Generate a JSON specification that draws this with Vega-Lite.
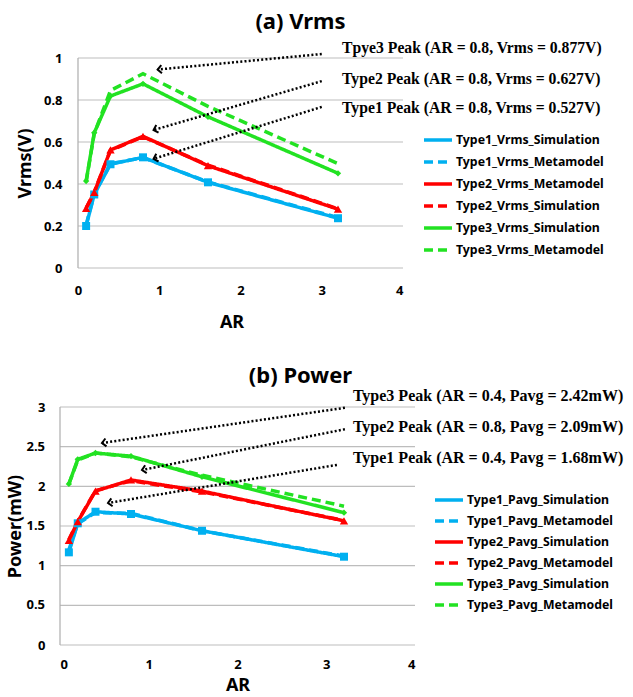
{
  "$schema": "https://vega.github.io/schema/vega-lite/v6.json",
  "background": "white",
  "padding": {"left": 6, "top": 10, "right": 0, "bottom": 0},
  "config": {
    "view": {"stroke": null},
    "font": "Noto Sans",
    "axis": {
      "labelFont": "Noto Sans", "labelFontWeight": "bold", "labelFontSize": 13, "labelColor": "#000",
      "titleFont": "Noto Sans", "titleFontWeight": "bold", "titleFontSize": 18, "titleColor": "#000",
      "ticks": false, "domainColor": "#ADADAD", "gridColor": "#BDBDBD", "gridWidth": 1.2, "domainWidth": 1.2, "labelOverlap": false
    },
    "legend": {
      "padding": 0, "symbolSize": 400, "symbolOpacity": 1,
      "labelFont": "Noto Sans", "labelFontWeight": "bold", "labelFontSize": 12.3, "labelColor": "#000",
      "labelOffset": 6, "labelLimit": 300
    }
  },
  "datasets": {
    "vrms": [
      {"series": "Type1_Vrms_Simulation", "AR": 0.1, "value": 0.2},
      {"series": "Type1_Vrms_Simulation", "AR": 0.2, "value": 0.35},
      {"series": "Type1_Vrms_Simulation", "AR": 0.4, "value": 0.494},
      {"series": "Type1_Vrms_Simulation", "AR": 0.8, "value": 0.527},
      {"series": "Type1_Vrms_Simulation", "AR": 1.6, "value": 0.408},
      {"series": "Type1_Vrms_Simulation", "AR": 3.2, "value": 0.237},
      {"series": "Type1_Vrms_Metamodel", "AR": 0.1, "value": 0.205},
      {"series": "Type1_Vrms_Metamodel", "AR": 0.2, "value": 0.352},
      {"series": "Type1_Vrms_Metamodel", "AR": 0.4, "value": 0.497},
      {"series": "Type1_Vrms_Metamodel", "AR": 0.8, "value": 0.525},
      {"series": "Type1_Vrms_Metamodel", "AR": 1.6, "value": 0.41},
      {"series": "Type1_Vrms_Metamodel", "AR": 3.2, "value": 0.24},
      {"series": "Type2_Vrms_Metamodel", "AR": 0.1, "value": 0.284},
      {"series": "Type2_Vrms_Metamodel", "AR": 0.2, "value": 0.36},
      {"series": "Type2_Vrms_Metamodel", "AR": 0.4, "value": 0.562},
      {"series": "Type2_Vrms_Metamodel", "AR": 0.8, "value": 0.627},
      {"series": "Type2_Vrms_Metamodel", "AR": 1.6, "value": 0.487},
      {"series": "Type2_Vrms_Metamodel", "AR": 3.2, "value": 0.28},
      {"series": "Type2_Vrms_Simulation", "AR": 0.1, "value": 0.285},
      {"series": "Type2_Vrms_Simulation", "AR": 0.2, "value": 0.362},
      {"series": "Type2_Vrms_Simulation", "AR": 0.4, "value": 0.56},
      {"series": "Type2_Vrms_Simulation", "AR": 0.8, "value": 0.625},
      {"series": "Type2_Vrms_Simulation", "AR": 1.6, "value": 0.49},
      {"series": "Type2_Vrms_Simulation", "AR": 3.2, "value": 0.282},
      {"series": "Type3_Vrms_Simulation", "AR": 0.1, "value": 0.414},
      {"series": "Type3_Vrms_Simulation", "AR": 0.2, "value": 0.644},
      {"series": "Type3_Vrms_Simulation", "AR": 0.4, "value": 0.819},
      {"series": "Type3_Vrms_Simulation", "AR": 0.8, "value": 0.877},
      {"series": "Type3_Vrms_Simulation", "AR": 1.6, "value": 0.72},
      {"series": "Type3_Vrms_Simulation", "AR": 3.2, "value": 0.451},
      {"series": "Type3_Vrms_Metamodel", "AR": 0.1, "value": 0.41},
      {"series": "Type3_Vrms_Metamodel", "AR": 0.2, "value": 0.64},
      {"series": "Type3_Vrms_Metamodel", "AR": 0.4, "value": 0.845},
      {"series": "Type3_Vrms_Metamodel", "AR": 0.8, "value": 0.925},
      {"series": "Type3_Vrms_Metamodel", "AR": 1.6, "value": 0.77},
      {"series": "Type3_Vrms_Metamodel", "AR": 3.2, "value": 0.497}
    ],
    "power": [
      {"series": "Type1_Pavg_Simulation", "AR": 0.1, "value": 1.168},
      {"series": "Type1_Pavg_Simulation", "AR": 0.2, "value": 1.534},
      {"series": "Type1_Pavg_Simulation", "AR": 0.4, "value": 1.68},
      {"series": "Type1_Pavg_Simulation", "AR": 0.8, "value": 1.651},
      {"series": "Type1_Pavg_Simulation", "AR": 1.6, "value": 1.44},
      {"series": "Type1_Pavg_Simulation", "AR": 3.2, "value": 1.113},
      {"series": "Type1_Pavg_Metamodel", "AR": 0.1, "value": 1.2},
      {"series": "Type1_Pavg_Metamodel", "AR": 0.2, "value": 1.53},
      {"series": "Type1_Pavg_Metamodel", "AR": 0.4, "value": 1.67},
      {"series": "Type1_Pavg_Metamodel", "AR": 0.8, "value": 1.66},
      {"series": "Type1_Pavg_Metamodel", "AR": 1.6, "value": 1.44},
      {"series": "Type1_Pavg_Metamodel", "AR": 3.2, "value": 1.12},
      {"series": "Type2_Pavg_Simulation", "AR": 0.1, "value": 1.32},
      {"series": "Type2_Pavg_Simulation", "AR": 0.2, "value": 1.555},
      {"series": "Type2_Pavg_Simulation", "AR": 0.4, "value": 1.94},
      {"series": "Type2_Pavg_Simulation", "AR": 0.8, "value": 2.08},
      {"series": "Type2_Pavg_Simulation", "AR": 1.6, "value": 1.94},
      {"series": "Type2_Pavg_Simulation", "AR": 3.2, "value": 1.565},
      {"series": "Type2_Pavg_Metamodel", "AR": 0.1, "value": 1.33},
      {"series": "Type2_Pavg_Metamodel", "AR": 0.2, "value": 1.56},
      {"series": "Type2_Pavg_Metamodel", "AR": 0.4, "value": 1.945},
      {"series": "Type2_Pavg_Metamodel", "AR": 0.8, "value": 2.07},
      {"series": "Type2_Pavg_Metamodel", "AR": 1.6, "value": 1.93},
      {"series": "Type2_Pavg_Metamodel", "AR": 3.2, "value": 1.57},
      {"series": "Type3_Pavg_Simulation", "AR": 0.1, "value": 2.03},
      {"series": "Type3_Pavg_Simulation", "AR": 0.2, "value": 2.34},
      {"series": "Type3_Pavg_Simulation", "AR": 0.4, "value": 2.42},
      {"series": "Type3_Pavg_Simulation", "AR": 0.8, "value": 2.38},
      {"series": "Type3_Pavg_Simulation", "AR": 1.6, "value": 2.12},
      {"series": "Type3_Pavg_Simulation", "AR": 3.2, "value": 1.668},
      {"series": "Type3_Pavg_Metamodel", "AR": 0.1, "value": 2.03},
      {"series": "Type3_Pavg_Metamodel", "AR": 0.2, "value": 2.33},
      {"series": "Type3_Pavg_Metamodel", "AR": 0.4, "value": 2.42},
      {"series": "Type3_Pavg_Metamodel", "AR": 0.8, "value": 2.37},
      {"series": "Type3_Pavg_Metamodel", "AR": 1.6, "value": 2.14},
      {"series": "Type3_Pavg_Metamodel", "AR": 3.2, "value": 1.75}
    ],
    "gridV": [{"g": 0}, {"g": 0.2}, {"g": 0.4}, {"g": 0.6}, {"g": 0.8}, {"g": 1}],
    "gridP": [{"g": 0}, {"g": 0.5}, {"g": 1}, {"g": 1.5}, {"g": 2}, {"g": 2.5}, {"g": 3}],
    "halfP": [{"g": 0.5}, {"g": 1.5}, {"g": 2.5}],
    "arrowsV": [
      {"peak": "Type3", "AR": 3.0, "value": 1.019, "AR2": 0.98, "value2": 0.945},
      {"peak": "Type2", "AR": 3.0, "value": 0.89, "AR2": 0.93, "value2": 0.657},
      {"peak": "Type1", "AR": 3.0, "value": 0.767, "AR2": 0.93, "value2": 0.52}
    ],
    "labelsV": [
      {"label": "Tpye3 Peak (AR = 0.8, Vrms = 0.877V)", "AR": 3.25, "value": 1.048},
      {"label": "Type2 Peak (AR = 0.8, Vrms = 0.627V)", "AR": 3.25, "value": 0.9},
      {"label": "Type1 Peak (AR = 0.8, Vrms = 0.527V)", "AR": 3.25, "value": 0.762}
    ],
    "arrowsP": [
      {"peak": "Type3", "AR": 3.21, "value": 2.99, "AR2": 0.473, "value2": 2.546},
      {"peak": "Type2", "AR": 3.21, "value": 2.72, "AR2": 0.924, "value2": 2.206},
      {"peak": "Type1", "AR": 3.12, "value": 2.27, "AR2": 0.541, "value2": 1.79}
    ],
    "labelsP": [
      {"label": "Type3 Peak (AR = 0.4, Pavg = 2.42mW)", "AR": 3.3, "value": 3.139},
      {"label": "Type2 Peak (AR = 0.8, Pavg = 2.09mW)", "AR": 3.3, "value": 2.748},
      {"label": "Type1 Peak (AR = 0.4, Pavg = 1.68mW)", "AR": 3.3, "value": 2.357}
    ]
  },
  "concat": [
    {
      "width": 343,
      "height": 210,
      "title": {"text": "(a) Vrms", "font": "Noto Sans", "fontSize": 22, "fontWeight": "bold", "color": "#000", "anchor": "middle", "frame": "group", "dx": 69, "offset": 6},
      "layer": [
        {
          "data": {"name": "gridV"},
          "mark": {"type": "rule", "color": "#BDBDBD", "strokeWidth": 1.2},
          "encoding": {
            "x": {"datum": 0, "type": "quantitative", "scale": {"domain": [-0.2215, 4], "nice": false, "zero": false},
              "axis": {"title": "AR", "values": [0, 1, 2, 3, 4], "format": "d", "grid": false, "domain": false, "labelPadding": 16, "titlePadding": 16}},
            "x2": {"datum": 4},
            "y": {"field": "g", "type": "quantitative", "scale": {"domain": [0, 1], "nice": false},
              "axis": {"title": "Vrms(V)", "values": [0, 0.2, 0.4, 0.6, 0.8, 1], "format": ".1~f", "grid": false, "domain": false, "offset": -18, "labelPadding": 16, "titlePadding": 9}}
          }
        },
        {
          "data": {"values": [{"g": 0}]},
          "mark": {"type": "rule", "color": "#ADADAD", "strokeWidth": 1.2},
          "encoding": {
            "x": {"datum": 0, "type": "quantitative"},
            "y": {"datum": 0, "type": "quantitative"},
            "y2": {"datum": 1}
          }
        },
        {
          "data": {"name": "vrms"},
          "mark": {"type": "line", "strokeWidth": 3.5},
          "encoding": {
            "x": {"field": "AR", "type": "quantitative"},
            "y": {"field": "value", "type": "quantitative"},
            "stroke": {"field": "series", "type": "nominal",
              "legend": {"orient": "none", "legendX": 366, "legendY": 70, "rowPadding": 3, "title": null, "symbolType": "M-1.4,0H1.4", "symbolStrokeWidth": 3.5},
              "scale": {"domain": ["Type1_Vrms_Simulation", "Type1_Vrms_Metamodel", "Type2_Vrms_Metamodel", "Type2_Vrms_Simulation", "Type3_Vrms_Simulation", "Type3_Vrms_Metamodel"],
                "range": ["#00B0F0", "#00B0F0", "#FF0000", "#FF0000", "#22E222", "#22E222"]}},
            "strokeDash": {"field": "series", "type": "nominal", "legend": null,
              "scale": {"domain": ["Type1_Vrms_Simulation", "Type1_Vrms_Metamodel", "Type2_Vrms_Metamodel", "Type2_Vrms_Simulation", "Type3_Vrms_Simulation", "Type3_Vrms_Metamodel"],
                "range": [[1, 0], [9, 5], [1, 0], [9, 5], [1, 0], [9, 5]]}}
          }
        },
        {
          "data": {"name": "vrms"},
          "transform": [{"filter": "datum.series === 'Type1_Vrms_Simulation'"}],
          "mark": {"type": "point", "shape": "square", "filled": true, "size": 64, "color": "#00B0F0", "opacity": 1},
          "encoding": {"x": {"field": "AR", "type": "quantitative"}, "y": {"field": "value", "type": "quantitative"}}
        },
        {
          "data": {"name": "vrms"},
          "transform": [{"filter": "datum.series === 'Type2_Vrms_Metamodel'"}],
          "mark": {"type": "point", "shape": "triangle-up", "filled": true, "size": 70, "color": "#FF0000", "opacity": 1},
          "encoding": {"x": {"field": "AR", "type": "quantitative"}, "y": {"field": "value", "type": "quantitative"}}
        },
        {
          "data": {"name": "vrms"},
          "transform": [{"filter": "datum.series === 'Type3_Vrms_Simulation'"}],
          "mark": {"type": "point", "shape": "diamond", "filled": true, "size": 40, "color": "#22E222", "opacity": 1},
          "encoding": {"x": {"field": "AR", "type": "quantitative"}, "y": {"field": "value", "type": "quantitative"}}
        },
        {
          "data": {"name": "arrowsV"},
          "mark": {"type": "rule", "strokeDash": [2, 2.2], "strokeWidth": 2.5, "color": "#000"},
          "encoding": {
            "x": {"field": "AR", "type": "quantitative"}, "y": {"field": "value", "type": "quantitative"},
            "x2": {"field": "AR2"}, "y2": {"field": "value2"}
          }
        },
        {
          "data": {"name": "arrowsV"},
          "transform": [{"filter": "datum.peak === 'Type3'"}],
          "mark": {"type": "point", "shape": "M1,-1L0,0L1,1", "filled": false, "strokeWidth": 2, "size": 64, "color": "#000", "opacity": 1, "angle": -5},
          "encoding": {"x": {"field": "AR2", "type": "quantitative"}, "y": {"field": "value2", "type": "quantitative"}}
        },
        {
          "data": {"name": "arrowsV"},
          "transform": [{"filter": "datum.peak !== 'Type3'"}],
          "mark": {"type": "point", "shape": "M1,-1L0,0L1,1", "filled": false, "strokeWidth": 2, "size": 64, "color": "#000", "opacity": 1, "angle": -16.5},
          "encoding": {"x": {"field": "AR2", "type": "quantitative"}, "y": {"field": "value2", "type": "quantitative"}}
        },
        {
          "data": {"name": "labelsV"},
          "mark": {"type": "text", "align": "left", "baseline": "middle", "font": "Liberation Serif", "fontWeight": "bold", "fontSize": 15.7, "color": "#000"},
          "encoding": {
            "x": {"field": "AR", "type": "quantitative"}, "y": {"field": "value", "type": "quantitative"},
            "text": {"field": "label"}
          }
        }
      ]
    },
    {
      "width": 355,
      "height": 238,
      "title": {"text": "(b) Power", "font": "Noto Sans", "fontSize": 22, "fontWeight": "bold", "color": "#000", "anchor": "middle", "frame": "group", "dx": 63, "offset": 0},
      "layer": [
        {
          "data": {"name": "gridP"},
          "mark": {"type": "rule", "color": "#BDBDBD", "strokeWidth": 1.2},
          "encoding": {
            "x": {"datum": 0, "type": "quantitative", "scale": {"domain": [0, 4], "nice": false},
              "axis": {"title": "AR", "values": [0, 1, 2, 3, 4], "format": "d", "grid": false, "domain": false, "labelPadding": 13, "titlePadding": 5}},
            "x2": {"datum": 4},
            "y": {"field": "g", "type": "quantitative", "scale": {"domain": [0, 3], "nice": false},
              "axis": {"title": "Power(mW)", "values": [0, 0.5, 1, 1.5, 2, 2.5, 3], "format": ".1~f", "labelOverlap": false, "grid": false, "domain": false, "labelPadding": 15, "titlePadding": 13}}
          }
        },
        {
          "data": {"values": [{"g": 0}]},
          "mark": {"type": "rule", "color": "#ADADAD", "strokeWidth": 1.2},
          "encoding": {
            "x": {"datum": 0, "type": "quantitative"},
            "y": {"datum": 0, "type": "quantitative"},
            "y2": {"datum": 3}
          }
        },
        {
          "data": {"name": "halfP"},
          "mark": {"type": "text", "align": "right", "baseline": "middle", "dx": -15, "font": "Noto Sans", "fontWeight": "bold", "fontSize": 13, "color": "#000"},
          "encoding": {
            "x": {"datum": 0, "type": "quantitative"},
            "y": {"field": "g", "type": "quantitative"},
            "text": {"field": "g", "type": "quantitative", "format": ".1f"}
          }
        },
        {
          "data": {"name": "power"},
          "mark": {"type": "line", "strokeWidth": 3.5},
          "encoding": {
            "x": {"field": "AR", "type": "quantitative"},
            "y": {"field": "value", "type": "quantitative"},
            "stroke": {"field": "series", "type": "nominal",
              "legend": {"orient": "none", "legendX": 377, "legendY": 81, "rowPadding": 2, "title": null, "symbolType": "M-1.4,0H1.4", "symbolStrokeWidth": 3.5},
              "scale": {"domain": ["Type1_Pavg_Simulation", "Type1_Pavg_Metamodel", "Type2_Pavg_Simulation", "Type2_Pavg_Metamodel", "Type3_Pavg_Simulation", "Type3_Pavg_Metamodel"],
                "range": ["#00B0F0", "#00B0F0", "#FF0000", "#FF0000", "#22E222", "#22E222"]}},
            "strokeDash": {"field": "series", "type": "nominal", "legend": null,
              "scale": {"domain": ["Type1_Pavg_Simulation", "Type1_Pavg_Metamodel", "Type2_Pavg_Simulation", "Type2_Pavg_Metamodel", "Type3_Pavg_Simulation", "Type3_Pavg_Metamodel"],
                "range": [[1, 0], [9, 5], [1, 0], [9, 5], [1, 0], [9, 5]]}}
          }
        },
        {
          "data": {"name": "power"},
          "transform": [{"filter": "datum.series === 'Type1_Pavg_Simulation'"}],
          "mark": {"type": "point", "shape": "square", "filled": true, "size": 64, "color": "#00B0F0", "opacity": 1},
          "encoding": {"x": {"field": "AR", "type": "quantitative"}, "y": {"field": "value", "type": "quantitative"}}
        },
        {
          "data": {"name": "power"},
          "transform": [{"filter": "datum.series === 'Type2_Pavg_Simulation'"}],
          "mark": {"type": "point", "shape": "triangle-up", "filled": true, "size": 70, "color": "#FF0000", "opacity": 1},
          "encoding": {"x": {"field": "AR", "type": "quantitative"}, "y": {"field": "value", "type": "quantitative"}}
        },
        {
          "data": {"name": "power"},
          "transform": [{"filter": "datum.series === 'Type3_Pavg_Simulation'"}],
          "mark": {"type": "point", "shape": "diamond", "filled": true, "size": 40, "color": "#22E222", "opacity": 1},
          "encoding": {"x": {"field": "AR", "type": "quantitative"}, "y": {"field": "value", "type": "quantitative"}}
        },
        {
          "data": {"name": "arrowsP"},
          "mark": {"type": "rule", "strokeDash": [2, 2.2], "strokeWidth": 2.5, "color": "#000"},
          "encoding": {
            "x": {"field": "AR", "type": "quantitative"}, "y": {"field": "value", "type": "quantitative"},
            "x2": {"field": "AR2"}, "y2": {"field": "value2"}
          }
        },
        {
          "data": {"name": "arrowsP"},
          "transform": [{"filter": "datum.peak === 'Type3'"}],
          "mark": {"type": "point", "shape": "M1,-1L0,0L1,1", "filled": false, "strokeWidth": 2, "size": 64, "color": "#000", "opacity": 1, "angle": -8},
          "encoding": {"x": {"field": "AR2", "type": "quantitative"}, "y": {"field": "value2", "type": "quantitative"}}
        },
        {
          "data": {"name": "arrowsP"},
          "transform": [{"filter": "datum.peak === 'Type2'"}],
          "mark": {"type": "point", "shape": "M1,-1L0,0L1,1", "filled": false, "strokeWidth": 2, "size": 64, "color": "#000", "opacity": 1, "angle": -11.4},
          "encoding": {"x": {"field": "AR2", "type": "quantitative"}, "y": {"field": "value2", "type": "quantitative"}}
        },
        {
          "data": {"name": "arrowsP"},
          "transform": [{"filter": "datum.peak === 'Type1'"}],
          "mark": {"type": "point", "shape": "M1,-1L0,0L1,1", "filled": false, "strokeWidth": 2, "size": 64, "color": "#000", "opacity": 1, "angle": -9.4},
          "encoding": {"x": {"field": "AR2", "type": "quantitative"}, "y": {"field": "value2", "type": "quantitative"}}
        },
        {
          "data": {"name": "labelsP"},
          "mark": {"type": "text", "align": "left", "baseline": "middle", "font": "Liberation Serif", "fontWeight": "bold", "fontSize": 16, "color": "#000"},
          "encoding": {
            "x": {"field": "AR", "type": "quantitative"}, "y": {"field": "value", "type": "quantitative"},
            "text": {"field": "label"}
          }
        }
      ]
    }
  ],
  "columns": 1,
  "spacing": 33,
  "resolve": {
    "scale": {"stroke": "independent", "strokeDash": "independent"},
    "legend": {"stroke": "independent", "strokeDash": "independent"}
  }
}
